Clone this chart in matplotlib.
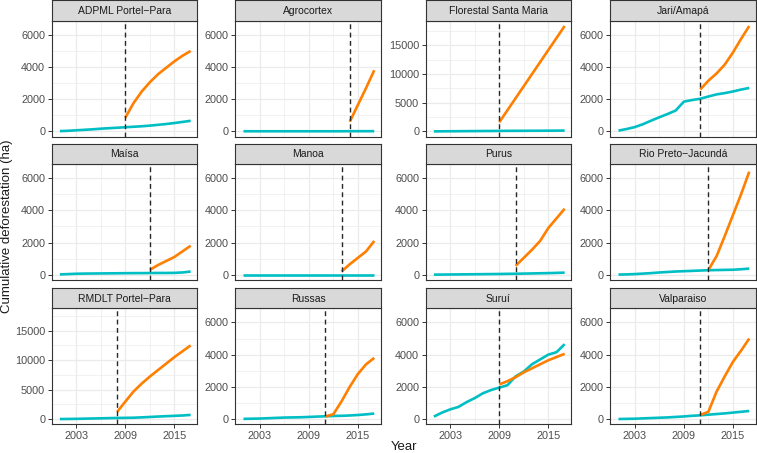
import numpy as np
import matplotlib.pyplot as plt
from matplotlib.ticker import MultipleLocator

plt.rcParams['font.family'] = ['Liberation Sans', 'DejaVu Sans']

years = np.arange(2001, 2018)

sites = ['ADPML Portel\u2212Para', 'Agrocortex', 'Florestal Santa Maria', 'Jari/Amap\u00e1',
         'Ma\u00edsa', 'Manoa', 'Purus', 'Rio Preto\u2212Jacund\u00e1',
         'RMDLT Portel\u2212Para', 'Russas', 'Suru\u00ed', 'Valparaiso']

start_year = [2009, 2014, 2009, 2011, 2012, 2013, 2011, 2012, 2008, 2011, 2009, 2011]

# observed (teal), 2001-2017
observed = [
    [20, 40, 70, 100, 130, 170, 200, 230, 260, 290, 320, 360, 410, 460, 520, 590, 660],
    [10, 10, 10, 10, 10, 10, 10, 10, 10, 10, 10, 10, 10, 15, 15, 15, 15],
    [10, 20, 30, 40, 50, 60, 70, 80, 90, 100, 105, 110, 115, 120, 130, 140, 150],
    [50, 150, 270, 450, 670, 880, 1080, 1300, 1850, 1950, 2030, 2170, 2300, 2380, 2480, 2600, 2700],
    [20, 40, 60, 70, 75, 80, 85, 90, 95, 100, 100, 105, 110, 110, 115, 140, 200],
    [10, 10, 10, 10, 10, 10, 10, 10, 10, 10, 10, 10, 10, 10, 10, 10, 10],
    [5, 10, 15, 20, 25, 30, 35, 40, 45, 55, 60, 70, 80, 90, 100, 115, 130],
    [10, 20, 40, 70, 100, 140, 170, 200, 220, 240, 260, 280, 290, 300, 310, 340, 380],
    [0, 10, 30, 60, 90, 120, 150, 180, 200, 220, 280, 350, 420, 480, 540, 600, 700],
    [10, 20, 30, 50, 70, 90, 100, 110, 130, 150, 170, 190, 200, 220, 250, 290, 340],
    [150, 400, 600, 750, 1050, 1300, 1600, 1800, 1950, 2100, 2650, 2950, 3400, 3700, 4000, 4150, 4650],
    [0, 10, 20, 40, 60, 80, 100, 130, 160, 200, 230, 270, 310, 350, 400, 450, 500],
]

# post-concession series (orange), from start_year to 2017
concession = [
    [850, 1750, 2470, 3050, 3550, 3950, 4350, 4700, 5000],
    [600, 1650, 2700, 3800],
    [1600, 3700, 5800, 7900, 10000, 12100, 14200, 16300, 18400],
    [2600, 3150, 3600, 4150, 4900, 5750, 6550],
    [300, 600, 850, 1100, 1450, 1800],
    [200, 650, 1050, 1450, 2100],
    [550, 1050, 1550, 2100, 2900, 3500, 4100],
    [300, 1150, 2400, 3700, 5000, 6400],
    [1200, 2950, 4650, 6000, 7200, 8300, 9400, 10500, 11500, 12500],
    [150, 300, 1100, 2000, 2800, 3400, 3800],
    [2150, 2350, 2600, 2900, 3150, 3400, 3650, 3850, 4050],
    [250, 450, 1700, 2650, 3550, 4250, 5000],
]

scale_max = [6550, 6550, 18400, 6550, 6550, 6550, 6550, 6550, 17900, 6550, 6550, 6550]
tick_step = [2000, 2000, 5000, 2000, 2000, 2000, 2000, 2000, 5000, 2000, 2000, 2000]

TEAL = '#00BFC4'
ORANGE = '#FF7F00'

W, H = 757, 453
fig = plt.figure(figsize=(W / 100, H / 100), dpi=100)

lefts = [51.7, 235.3, 425.7, 610.3]
pw = 145.5
tops = [20.7, 164.0, 308.3]
ph = 116.0
sh = 20.5

for i, name in enumerate(sites):
    r, c = divmod(i, 4)
    x0 = lefts[c]
    y0 = tops[r]
    ax = fig.add_axes([x0 / W, 1 - (y0 + ph) / H, pw / W, ph / H])
    st = fig.add_axes([x0 / W, 1 - y0 / H, pw / W, sh / H])
    st.set_facecolor('#D9D9D9')
    st.set_xticks([]); st.set_yticks([])
    for s in st.spines.values():
        s.set_color('#333333'); s.set_linewidth(0.8)
    st.text(0.5, 0.47, name, ha='center', va='center', fontsize=7.5, color='#1A1A1A',
            transform=st.transAxes)

    m = scale_max[i]
    ax.set_ylim(-0.05 * m, 1.05 * m)
    ax.set_xlim(2000.2, 2017.8)
    ax.set_xticks([2003, 2009, 2015])
    ax.set_xticks([2000, 2006, 2012], minor=True)
    ax.yaxis.set_major_locator(MultipleLocator(tick_step[i]))
    ax.yaxis.set_minor_locator(MultipleLocator(tick_step[i] / 2))
    ax.grid(True, which='major', color='#EBEBEB', linewidth=0.9)
    ax.grid(True, which='minor', color='#EBEBEB', linewidth=0.5)
    ax.set_axisbelow(True)
    ax.tick_params(which='minor', length=0)
    ax.tick_params(which='major', length=2.7, width=0.7, color='#333333',
                   labelsize=7.8, labelcolor='#4D4D4D', pad=2)
    if r < 2:
        ax.tick_params(axis='x', labelbottom=False, length=0)
    for s in ax.spines.values():
        s.set_color('#333333'); s.set_linewidth(0.8)

    ax.plot(years, observed[i], color=TEAL, linewidth=1.9, solid_capstyle='butt', zorder=3)
    yrs2 = np.arange(start_year[i], 2018)
    ax.plot(yrs2, concession[i], color=ORANGE, linewidth=1.9, solid_capstyle='butt', zorder=4)
    ax.axvline(start_year[i], color='#262626', linestyle=(0, (3.5, 2.5)), linewidth=1.0, zorder=5)

fig.text(7 / W, 0.5, 'Cumulative deforestation (ha)', rotation=90, ha='center', va='center',
         fontsize=9.5, color='#1A1A1A')
fig.text(404 / W, 1 - 447 / H, 'Year', ha='center', va='center', fontsize=9.5, color='#1A1A1A')

fig.savefig('out.png', dpi=100)
